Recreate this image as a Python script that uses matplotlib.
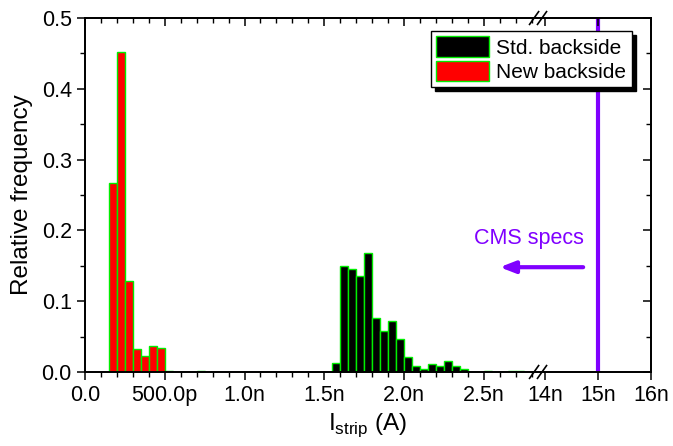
"""
Strip current histogram, std vs new backside, broken x axis
"""
import numpy as np
import matplotlib
matplotlib.use('Agg')
import matplotlib.pyplot as plt

plt.rcParams['font.family'] = ['Liberation Sans', 'DejaVu Sans']
plt.rcParams['mathtext.fontset'] = 'custom'
plt.rcParams['mathtext.rm'] = 'Liberation Sans'

# Data (x in nA, bin width 50 pA)
bin_w = 0.05
new_left = [0.15, 0.20, 0.25, 0.30, 0.35, 0.40, 0.45, 0.50, 0.55, 0.60, 0.65, 0.70,
            0.75, 0.80, 0.85, 0.90, 0.95, 1.00, 1.05, 1.10]
new_freq = [0.267, 0.452, 0.129, 0.033, 0.022, 0.037, 0.034, 0.001, 0.0, 0.0, 0.0, 0.001,
            0.0, 0.0, 0.0, 0.0, 0.0, 0.0, 0.0, 0.0]
std_left = [1.55, 1.60, 1.65, 1.70, 1.75, 1.80, 1.85, 1.90, 1.95, 2.00, 2.05, 2.10,
            2.15, 2.20, 2.25, 2.30, 2.35, 2.40, 2.45, 2.50, 2.55, 2.60, 2.65, 2.70]
std_freq = [0.012, 0.149, 0.145, 0.135, 0.168, 0.076, 0.058, 0.072, 0.047, 0.021, 0.008, 0.004,
            0.011, 0.008, 0.015, 0.008, 0.004, 0.0, 0.0, 0.001, 0.0, 0.0, 0.001, 0.001]
cms_spec = 15.0

xticks = [0.0, 0.5, 1.0, 1.5, 2.0, 2.5, 14, 15, 16]
xticklabels = ['0.0', '500.0p', '1.0n', '1.5n', '2.0n', '2.5n', '14n', '15n', '16n']
yticks = [0.0, 0.1, 0.2, 0.3, 0.4, 0.5]
yminor = [0.05, 0.15, 0.25, 0.35, 0.45]

# broken scale: 0..L linear, gap compressed, R0.. with smaller slope
L, R0, k, eps = 2.84, 13.9, 53 / 160, 1e-3
G = (R0 - L) * eps


def fwd(x):
    x = np.asarray(x, dtype=float)
    return np.where(x <= L, x, np.where(x < R0, L + (x - L) * eps, L + G + (x - R0) * k))


def inv(u):
    u = np.asarray(u, dtype=float)
    return np.where(u <= L, u, np.where(u < L + G, L + (u - L) / eps, R0 + (u - L - G) / k))


fig = plt.figure(figsize=(6.73, 4.46), dpi=100)
ax = fig.add_axes([0.1263, 0.166, 0.8407, 0.7936])
ax.set_xscale('function', functions=(fwd, inv))

ax.bar(std_left, std_freq, width=bin_w, align='edge', color='black',
       edgecolor='#00ee00', linewidth=1.0, label='Std. backside', zorder=2)
ax.bar(new_left, new_freq, width=bin_w, align='edge', color='red',
       edgecolor='#00ee00', linewidth=1.0, label='New backside', zorder=2)

ax.axvline(cms_spec, color='#8000ff', linewidth=3, zorder=3)
ax.annotate('', xy=(2.6, 0.148), xytext=(14.72, 0.148),
            arrowprops=dict(arrowstyle='-|>,head_length=0.9,head_width=0.35',
                            color='#8000ff', lw=3, shrinkA=0, shrinkB=0))
ax.text(14.74, 0.189, 'CMS specs', color='#8000ff', fontsize=15.5,
        ha='right', va='center')

ax.set_xlim(0, 16)
ax.set_ylim(0, 0.5)
ax.set_xticks(xticks)
ax.set_xticklabels(xticklabels)
minor_x = [m / 10 for m in range(0, 29) if m % 5 != 0]
ax.set_xticks(minor_x, minor=True)
ax.set_yticks(yticks)
ax.set_yticklabels(['%.1f' % v for v in yticks])
ax.set_yticks(yminor, minor=True)
ax.tick_params(which='major', direction='out', length=6, width=1.1, labelsize=15.5)
ax.tick_params(which='minor', direction='out', length=3.5, width=1.0)
for s in ax.spines.values():
    s.set_linewidth(1.1)

# mirrored inward ticks on top and right
axt = ax.twiny()
axt.set_xscale('function', functions=(fwd, inv))
axt.set_xlim(0, 16)
axt.set_xticks(xticks)
axt.set_xticks(minor_x, minor=True)
axt.tick_params(which='major', direction='in', length=5.5, width=1.1, labeltop=False)
axt.tick_params(which='minor', direction='in', length=3.5, width=1.0)
axr = ax.twinx()
axr.set_ylim(0, 0.5)
axr.set_yticks(yticks)
axr.set_yticks(yminor, minor=True)
axr.tick_params(which='major', direction='in', length=5.5, width=1.1, labelright=False)
axr.tick_params(which='minor', direction='in', length=3.5, width=1.0)
for a in (axt, axr):
    for s in a.spines.values():
        s.set_linewidth(1.1)

ax.set_xlabel(r'I$_{\mathregular{strip}}$ (A)', fontsize=17.5, labelpad=4)
ax.set_ylabel('Relative frequency', fontsize=17.5, labelpad=6)

# break marks
fig.canvas.draw()
xb = ax.transAxes.inverted().transform(ax.transData.transform((L + G / 2, 0)))[0]
for yb in (0.0, 1.0):
    for dx in (-0.007, 0.007):
        ax.plot([xb + dx - 0.008, xb + dx + 0.008], [yb - 0.018, yb + 0.018],
                transform=ax.transAxes, color='black', lw=1.2, clip_on=False, zorder=5)

leg = ax.legend(loc='upper right', bbox_to_anchor=(0.966, 0.963), borderaxespad=0,
                fontsize=15, fancybox=False, edgecolor='black', framealpha=1,
                shadow={'color': 'black', 'alpha': 1, 'ox': 3, 'oy': -3},
                handlelength=2.55, handleheight=1.15, labelspacing=0.14,
                borderpad=0.25, handletextpad=0.35)
leg.get_frame().set_linewidth(1.0)
leg.set_zorder(10)

fig.savefig('out.png', dpi=100)
print('Saved: out.png')
